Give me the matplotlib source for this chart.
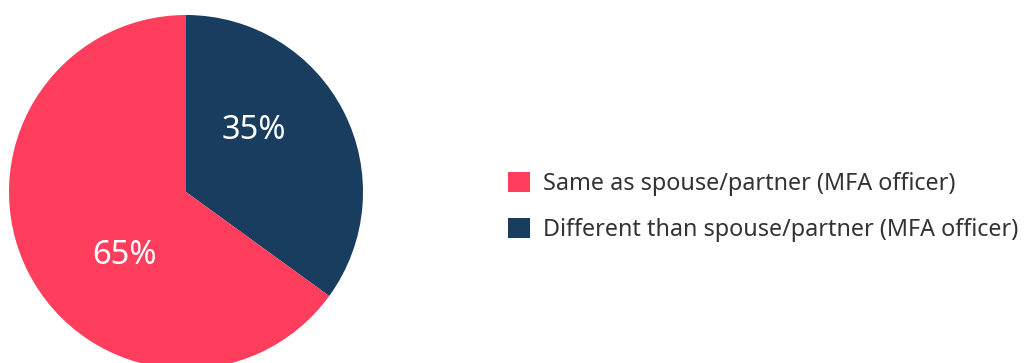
import matplotlib.pyplot as plt

# share of respondents
labels = ['Different than spouse/partner (MFA officer)', 'Same as spouse/partner (MFA officer)']
values = [35, 65]
colors = ['#193d5e', '#ff3d5c']

plt.rcParams['font.family'] = ['Noto Sans', 'DejaVu Sans']

fig = plt.figure(figsize=(10.29, 3.63), dpi=100)
# pie axes: centre at (186, 192) px, radius 177 px
ax = fig.add_axes([9 / 1029, (171 - 177) / 363, 354 / 1029, 354 / 363])

wedges, texts, autotexts = ax.pie(values, colors=colors, startangle=90, counterclock=False,
                                  radius=1, autopct='%d%%', pctdistance=0.5,
                                  textprops={'color': 'white', 'fontsize': 23.5},
                                  wedgeprops={'linewidth': 0})
# nudge the percentage labels to sit like the original layout
autotexts[0].set_position((0.385, 0.345))
autotexts[1].set_position((-0.35, -0.36))
ax.set_xlim(-1, 1)
ax.set_ylim(-1, 1)
ax.set_aspect('equal')
ax.axis('off')

# legend lists the red slice first
leg = fig.legend([wedges[1], wedges[0]], [labels[1], labels[0]],
                 loc='center left', bbox_to_anchor=(508 / 1029, 1 - 207 / 363),
                 frameon=False, fontsize=16.8, handlelength=0.95, handleheight=0.95,
                 handletextpad=0.55, labelspacing=0.95, borderpad=0, borderaxespad=0)
for t in leg.get_texts():
    t.set_color('#333333')

fig.savefig('out.png', dpi=100)
